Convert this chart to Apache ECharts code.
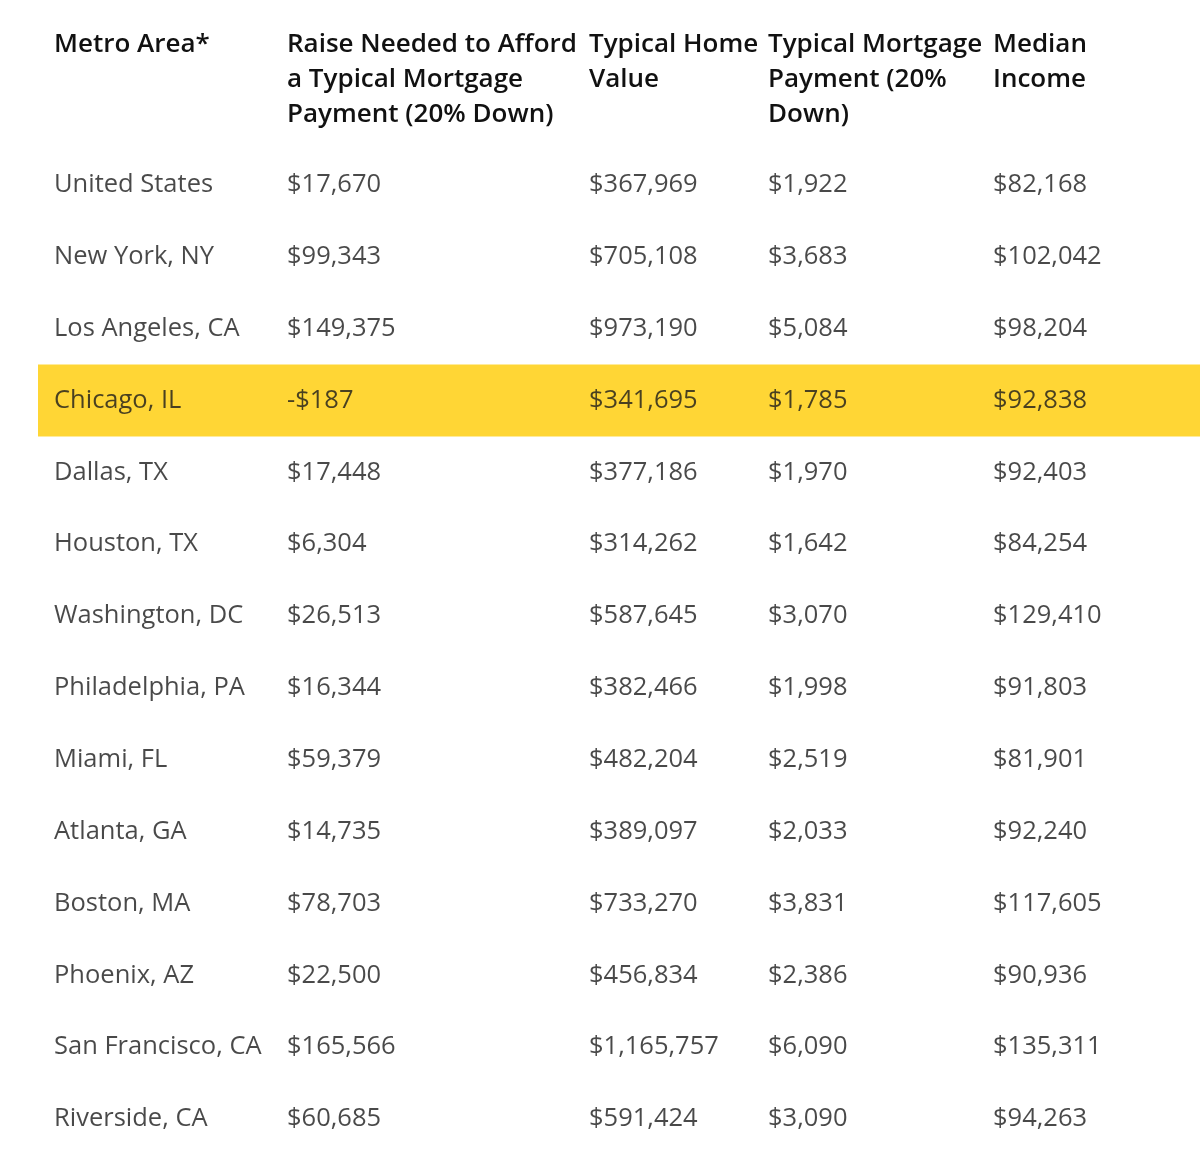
<!DOCTYPE html>
<html>
<head>
<meta charset="utf-8">
<script src="https://cdn.jsdelivr.net/npm/echarts@6/dist/echarts.min.js"></script>
<style>html,body{margin:0;background:#fff}#main{width:1200px;height:1172px}</style>
</head>
<body>
<div id="main"></div>
<script>
var headers = [
    ['Metro Area*'],
    ['Raise Needed to Afford', 'a Typical Mortgage', 'Payment (20% Down)'],
    ['Typical Home', 'Value'],
    ['Typical Mortgage', 'Payment (20%', 'Down)'],
    ['Median', 'Income']
];
var metros = ['United States', 'New York, NY', 'Los Angeles, CA', 'Chicago, IL', 'Dallas, TX',
    'Houston, TX', 'Washington, DC', 'Philadelphia, PA', 'Miami, FL', 'Atlanta, GA',
    'Boston, MA', 'Phoenix, AZ', 'San Francisco, CA', 'Riverside, CA'];
var raiseNeeded = ['$17,670', '$99,343', '$149,375', '-$187', '$17,448', '$6,304', '$26,513',
    '$16,344', '$59,379', '$14,735', '$78,703', '$22,500', '$165,566', '$60,685'];
var homeValue = ['$367,969', '$705,108', '$973,190', '$341,695', '$377,186', '$314,262', '$587,645',
    '$382,466', '$482,204', '$389,097', '$733,270', '$456,834', '$1,165,757', '$591,424'];
var mortgage = ['$1,922', '$3,683', '$5,084', '$1,785', '$1,970', '$1,642', '$3,070',
    '$1,998', '$2,519', '$2,033', '$3,831', '$2,386', '$6,090', '$3,090'];
var income = ['$82,168', '$102,042', '$98,204', '$92,838', '$92,403', '$84,254', '$129,410',
    '$91,803', '$81,901', '$92,240', '$117,605', '$90,936', '$135,311', '$94,263'];
var highlighted = 'Chicago, IL';

// column left edges and highlight span (layout)
var colX = [54, 287, 589, 768, 993];
var hlStart = 38, hlEnd = 1200;
var columns = [metros, raiseNeeded, homeValue, mortgage, income];
var font = '"Open Sans", "Noto Sans", sans-serif';

var myChart = echarts.init(document.getElementById('main'));

var series = [
    {
        type: 'bar', stack: 'hl', silent: true, barWidth: '100%',
        itemStyle: { color: 'transparent' },
        data: metros.map(function (m) { return m === highlighted ? hlStart : '-'; })
    },
    {
        type: 'bar', stack: 'hl', silent: true, barWidth: '100%',
        itemStyle: { color: '#FFD42A', opacity: 0.95 },
        data: metros.map(function (m) { return m === highlighted ? hlEnd - hlStart : '-'; })
    }
];

columns.forEach(function (col, c) {
    series.push({
        type: 'scatter',
        symbolSize: 0,
        silent: true,
        z: 5,
        data: col.map(function (v, i) { return { value: [colX[c], metros[i]], txt: v }; }),
        label: {
            show: true, position: 'inside', align: 'left', verticalAlign: 'middle',
            fontFamily: font, fontSize: 25.5, color: '#1c1c1c',
            formatter: function (p) { return p.data.txt; }
        }
    });
});

var graphics = headers.map(function (lines, c) {
    return {
        type: 'text', left: colX[c], top: 27,
        style: { text: lines.join('\n'), font: '600 26px ' + font, fill: '#111', lineHeight: 35 }
    };
});

myChart.setOption({
    animation: false,
    grid: { left: 0, right: 0, top: 149, bottom: 17 },
    xAxis: { type: 'value', min: 0, max: 1200, show: false },
    yAxis: { type: 'category', data: metros, inverse: true, show: false },
    graphic: graphics,
    series: series
});
</script>
</body>
</html>
